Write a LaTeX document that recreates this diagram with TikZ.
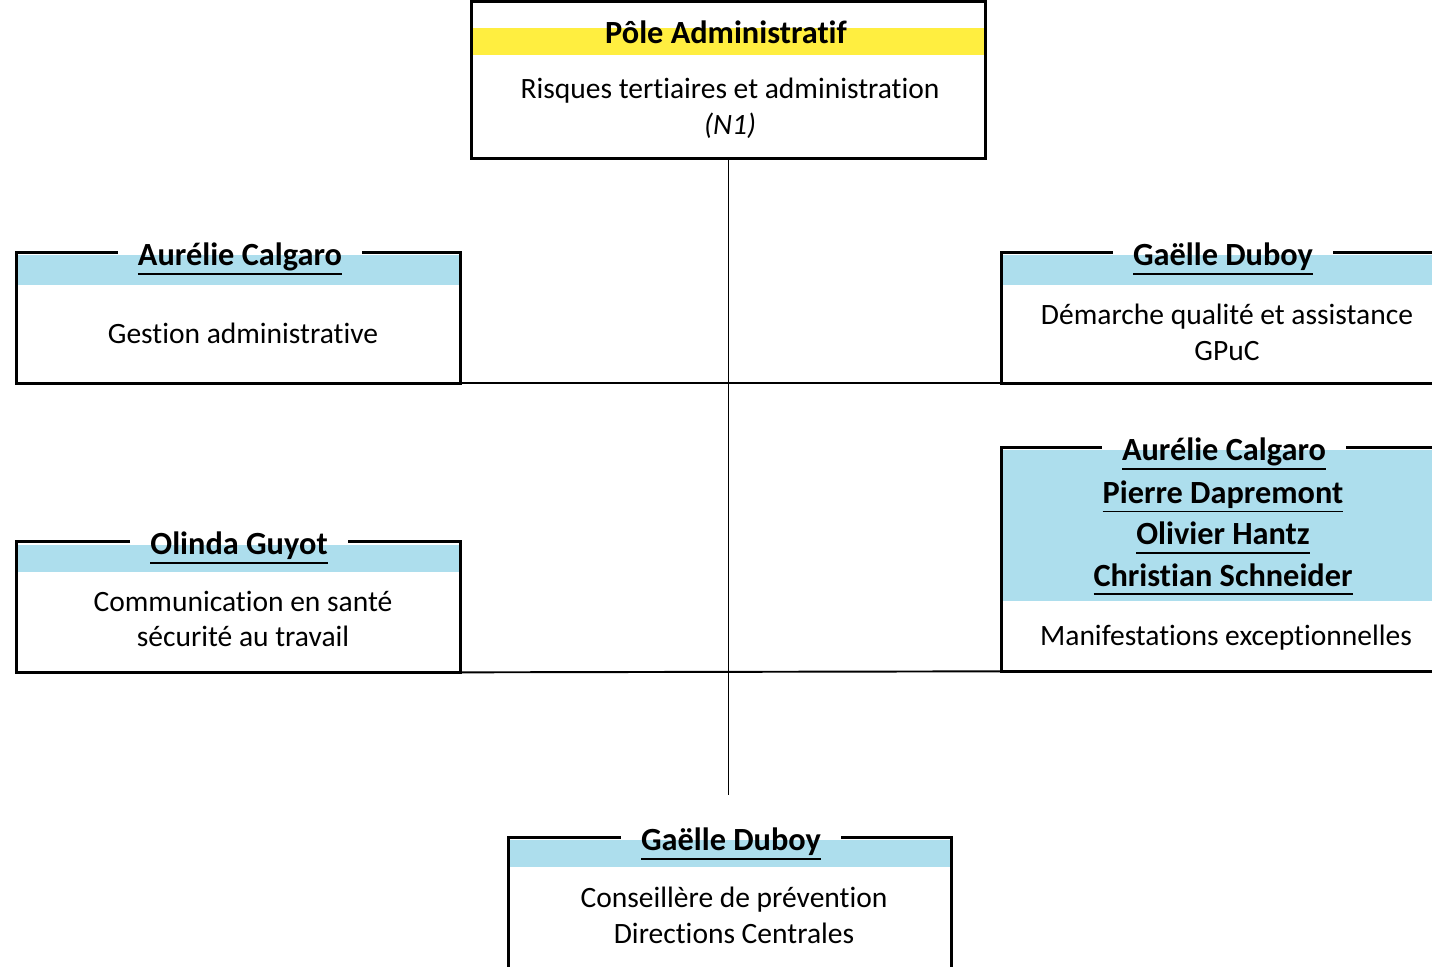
\documentclass[tikz,border=0pt]{standalone}
\usepackage{fontspec}
\setmainfont{Carlito}[Ligatures=NoCommon]
\usepackage{xcolor}
\usetikzlibrary{positioning}
\definecolor{bandblue}{RGB}{173,222,237}
\definecolor{bandyellow}{RGB}{255,238,64}
\newcommand{\uname}[1]{\setbox0\hbox{#1}\rlap{\rule[-5pt]{\wd0}{1.1pt}}\box0}

\begin{document}
\begin{tikzpicture}[
  x=0.02cm, y=-0.02cm,
  box/.style={
    rectangle, inner sep=0pt,
    minimum width=8.86cm, minimum height=2.6cm},
  frame/.style={line width=1.7pt, line join=miter},
  who/.style={
    font=\fontsize{18.4}{23.5}\selectfont\bfseries,
    inner xsep=0.4cm, inner ysep=0pt, align=center},
  task/.style={
    font=\fontsize{16.8}{20.4}\selectfont, align=center},
  link/.style={line width=1.1pt}
]

\useasboundingbox (0,0) rectangle (1432,966);
\clip (0,0) rectangle (1432,966);
\fill[white] (0,0) rectangle (1432,966);

%% Boxes
\node[box, minimum width=10.26cm, minimum height=3.12cm] (pole) at (728.5,80) {};
\node[box]                        (gestion)       at (238.5,318) {};
\node[box, minimum width=9cm]     (qualite)       at (1227,318)  {};
\node[box]                        (communication) at (238.5,607) {};
\node[box, minimum width=9cm, minimum height=4.46cm] (manif) at (1227,559.5) {};
\node[box, minimum width=8.84cm]  (conseil)       at (730,903)   {};

%% Bands
\fill[bandyellow] ([yshift=-0.52cm]pole.north west) rectangle ([yshift=-1.06cm]pole.north east);
\fill[bandblue] ([yshift=-0.04cm]gestion.north west) rectangle ([yshift=-0.64cm]gestion.north east);
\fill[bandblue] ([yshift=-0.04cm]qualite.north west) rectangle ([yshift=-0.64cm]qualite.north east);
\fill[bandblue] ([yshift=-0.06cm]communication.north west) rectangle ([yshift=-0.6cm]communication.north east);
\fill[bandblue] ([yshift=-0.04cm]manif.north west) rectangle ([yshift=-3.06cm]manif.north east);
\fill[bandblue] ([yshift=-0.04cm]conseil.north west) rectangle ([yshift=-0.58cm]conseil.north east);

%% Names
\node[who, inner xsep=0pt] (poletitle) at (726,32) {Pôle Administratif};
\node[who] (gestionchef)       at (240,259)  {\uname{Aurélie Calgaro}};
\node[who] (qualitechef)       at (1223,259) {\uname{Gaëlle Duboy}};
\node[who] (communicationchef) at (239,548)  {\uname{Olinda Guyot}};
\node[who] (manifchef)         at (1224,454) {\uname{Aurélie Calgaro}};
\node[who] (manifteam)         at (1223,538)
  {\uname{Pierre Dapremont}\\\uname{Olivier Hantz}\\\uname{Christian Schneider}};
\node[who] (conseilchef)       at (731,844)  {\uname{Gaëlle Duboy}};

%% Tasks
\node[task] (poletask)          at (730,108) {Risques tertiaires et administration\\\textit{(N1)}};
\node[task] (gestiontask)       at (243,333) {Gestion administrative};
\node[task] (qualitetask)       at (1227,332) {Démarche qualité et assistance\\GPuC};
\node[task] (communicationtask) at (243,619) {Communication en santé\\sécurité au travail};
\node[task] (maniftask)         at (1226,638) {Manifestations exceptionnelles};
\node[task] (conseiltask)       at (734,915) {Conseillère de prévention\\Directions Centrales};

%% Frames
\draw[frame] (pole.north west) rectangle (pole.south east);
\foreach \b in {gestion, qualite, communication, manif, conseil}{
  \draw[frame] (\b chef.west |- \b.north) -- (\b.north west) -- (\b.south west)
    -- (\b.south east) -- (\b.north east) -- (\b chef.east |- \b.north);
}

%% Links
\coordinate (trunkend) at (728.5,795);
\draw[link] (pole.south) -- (trunkend);
\draw[link] (gestion.south east) -- (qualite.south west);
\draw[link] (communication.south east) -- (manif.south west);

\end{tikzpicture}
\end{document}
